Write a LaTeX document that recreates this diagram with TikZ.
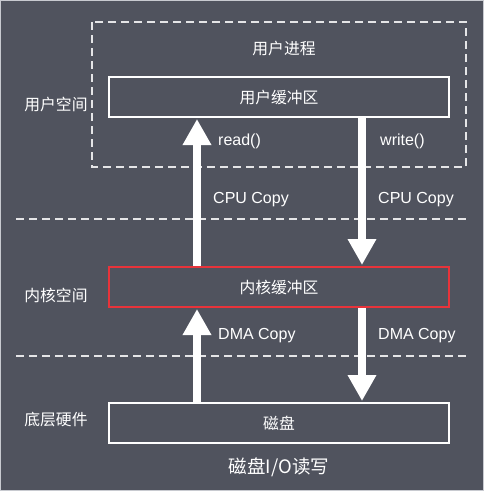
\documentclass[tikz,border=0pt]{standalone}
\usepackage{fontspec}
\usepackage{tikz}
\usetikzlibrary{arrows.meta}
\setmainfont{Liberation Sans}
\newfontfamily\cjk{Noto Sans CJK SC}
\definecolor{bggray}{RGB}{80,83,94}
\definecolor{edgegray}{RGB}{200,202,208}
\definecolor{bufred}{RGB}{232,51,58}
\tikzset{
  buf/.style={draw=white,line width=2pt,minimum width=340pt,minimum height=40pt,inner sep=0pt,text=white,font=\cjk\fontsize{15.8}{19}\selectfont},
  lbl/.style={text=white,inner sep=0pt,font=\fontsize{16}{19}\selectfont},
  zone/.style={text=white,inner sep=0pt,font=\cjk\fontsize{15.8}{19}\selectfont},
  fatarrow/.style={draw=white,line width=8pt,-{Triangle[width=27pt,length=26pt]},shorten >=1pt},
  sepline/.style={draw=white!85!bggray,line width=2pt,dash pattern=on 8pt off 5pt}
}

\begin{document}
\begin{tikzpicture}[x=1pt,y=-1pt]
\fill[bggray] (0,0) rectangle (484,491);
\draw[edgegray,line width=0.8pt] (0.4,0.4) rectangle (483.6,490.6);
\useasboundingbox (0,0) rectangle (484,491);

% user process
\draw[sepline] (92,22) rectangle (466,167);
\node[zone] (proc) at (284,49) {用户进程};

% buffers
\node[buf] (userbuf) at (279,97) {用户缓冲区};
\node[buf,draw=bufred] (kernelbuf) at (279,287) {内核缓冲区};
\node[buf] (disk) at (279,423) {磁盘};

% layers
\draw[sepline] (16,219) -- (470,219);
\draw[sepline] (16,356) -- (470,356);
\node[zone] (userspace) at (56,104) {用户空间};
\node[zone] (kernelspace) at (56,295) {内核空间};
\node[zone] (hardware) at (56,420) {底层硬件};

% copy arrows
\coordinate (readx) at (197,0);
\coordinate (writex) at (362,0);
\draw[fatarrow] (disk.north -| readx) -- (kernelbuf.south -| readx);
\draw[fatarrow] (kernelbuf.north -| readx) -- (userbuf.south -| readx);
\draw[fatarrow] (userbuf.south -| writex) -- (kernelbuf.north -| writex);
\draw[fatarrow] (kernelbuf.south -| writex) -- (disk.north -| writex);

\node[lbl,anchor=west] (read) at (218,141) {read()};
\node[lbl,anchor=west] (write) at (380,141) {write()};
\node[lbl,anchor=west] (cpuread) at (213,200) {CPU Copy};
\node[lbl,anchor=west] (cpuwrite) at (378,200) {CPU Copy};
\node[lbl,anchor=west] (dmaread) at (218,336) {DMA Copy};
\node[lbl,anchor=west] (dmawrite) at (378,336) {DMA Copy};

\node[zone,font=\cjk\fontsize{18.5}{22}\selectfont] (title) at (279,467) {磁盘I/O读写};
\end{tikzpicture}
\end{document}
